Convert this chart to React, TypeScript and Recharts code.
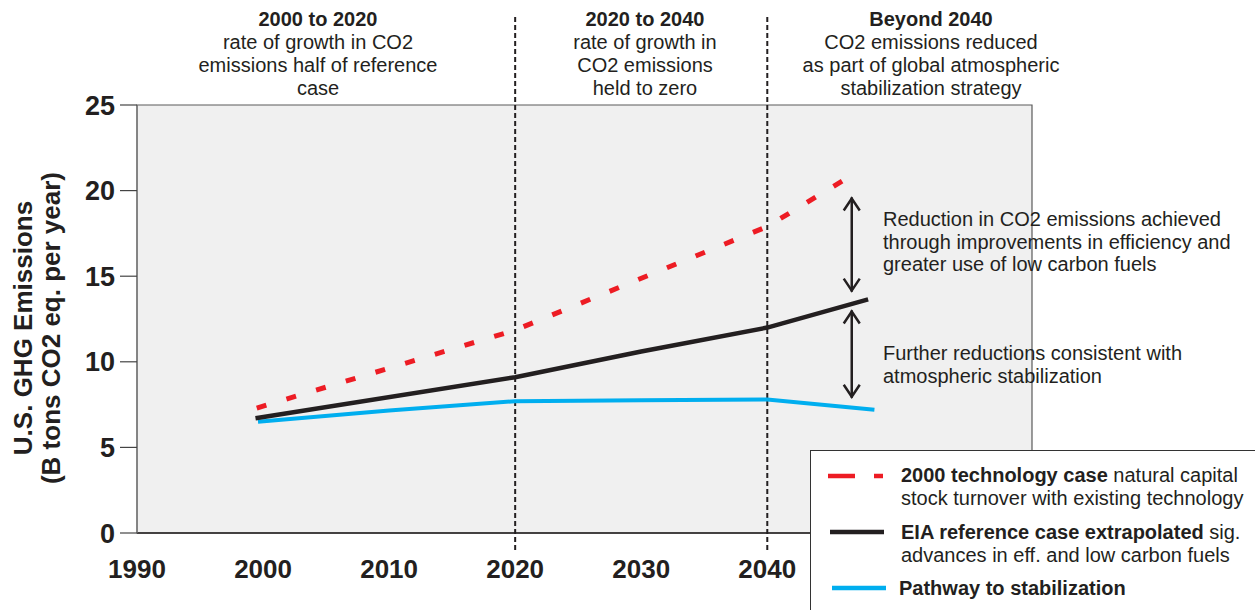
import React from 'react';
import { LineChart, Line, XAxis, YAxis, ReferenceArea, ReferenceLine } from 'recharts';

const FONT = '"Liberation Sans", Arial, Helvetica, sans-serif';
const INK = '#231f20';

// x axis
const X_TICKS = [1990, 2000, 2010, 2020, 2030, 2040];
const X_DOMAIN = [1990, 2061];
const Y_TICKS = [0, 5, 10, 15, 20, 25];

// 2000 technology case
const TECH_YEARS = [1999.5, 2020, 2040, 2046.7];
const TECH_VALUES = [7.3, 11.85, 17.9, 20.9];

// EIA reference case extrapolated
const EIA_YEARS = [1999.4, 2020, 2030, 2040, 2048];
const EIA_VALUES = [6.7, 9.1, 10.6, 12.0, 13.65];

// Pathway to stabilization
const PATH_YEARS = [1999.6, 2010, 2020, 2030, 2040, 2048.5];
const PATH_VALUES = [6.5, 7.15, 7.7, 7.75, 7.8, 7.2];

// period separators and the two reduction arrows
const PERIOD_LINES = [2020, 2040];
const ARROW_YEAR = 2046.7;
const ARROWS = [
  [19.6, 14.1],
  [13.0, 7.9],
];

const toRows = (xs: number[], ys: number[]) => xs.map((year, i) => ({ year, value: ys[i] }));

const techData = toRows(TECH_YEARS, TECH_VALUES);
const eiaData = toRows(EIA_YEARS, EIA_VALUES);
const pathData = toRows(PATH_YEARS, PATH_VALUES);

const ArrowShape = (props: any) => {
  const { x1, y1, y2 } = props;
  const top = Math.min(y1, y2);
  const bottom = Math.max(y1, y2);
  return (
    <g stroke={INK} strokeWidth={2.5} fill="none">
      <line x1={x1} y1={top} x2={x1} y2={bottom} />
      <polyline points={`${x1 - 8},${top + 13} ${x1},${top + 1} ${x1 + 8},${top + 13}`} />
      <polyline points={`${x1 - 8},${bottom - 13} ${x1},${bottom - 1} ${x1 + 8},${bottom - 13}`} />
    </g>
  );
};

const headers = [
  { center: 318, title: '2000 to 2020', lines: ['rate of growth in CO2', 'emissions half of reference', 'case'] },
  { center: 645, title: '2020 to 2040', lines: ['rate of growth in', 'CO2 emissions', 'held to zero'] },
  { center: 931, title: 'Beyond 2040', lines: ['CO2 emissions reduced', 'as part of global atmospheric', 'stabilization strategy'] },
];

const App: React.FC = () => {
  return (
    <div
      style={{
        position: 'absolute',
        left: 0,
        top: 0,
        width: 1255,
        height: 610,
        background: '#fff',
        fontFamily: FONT,
        color: INK,
        overflow: 'hidden',
      }}
    >
      <LineChart width={1255} height={610} margin={{ top: 105, right: 223, bottom: 37, left: 77 }}>
        <ReferenceArea
          x1={X_DOMAIN[0]}
          x2={X_DOMAIN[1]}
          y1={0}
          y2={25}
          fill="#f0f0f0"
          fillOpacity={1}
          stroke="#5a5a5a"
          strokeWidth={1.2}
        />
        <XAxis
          type="number"
          dataKey="year"
          domain={X_DOMAIN}
          ticks={X_TICKS}
          allowDecimals
          height={40}
          tickLine={false}
          tickSize={0}
          tickMargin={27}
          axisLine={{ stroke: INK, strokeWidth: 1.5 }}
          tick={{ fill: INK, fontSize: 26, fontWeight: 'bold', fontFamily: FONT }}
        />
        <YAxis
          type="number"
          domain={[0, 25]}
          ticks={Y_TICKS}
          width={60}
          tickSize={17}
          tickMargin={5}
          tickLine={{ stroke: '#444', strokeWidth: 1.2 }}
          axisLine={{ stroke: '#777', strokeWidth: 1.2 }}
          tick={{ fill: INK, fontSize: 27, fontWeight: 'bold', fontFamily: FONT }}
        />
        {PERIOD_LINES.map((yr) => (
          <ReferenceLine
            key={yr}
            segment={[
              { x: yr, y: -1 },
              { x: yr, y: 30.3 },
            ]}
            ifOverflow="visible"
            stroke={INK}
            strokeWidth={2}
            strokeDasharray="5 3"
          />
        ))}
        <Line
          data={pathData}
          dataKey="value"
          type="linear"
          stroke="#00aeef"
          strokeWidth={4}
          dot={false}
          activeDot={false}
          isAnimationActive={false}
        />
        <Line
          data={eiaData}
          dataKey="value"
          type="linear"
          stroke={INK}
          strokeWidth={4.5}
          dot={false}
          activeDot={false}
          isAnimationActive={false}
        />
        <Line
          data={techData}
          dataKey="value"
          type="linear"
          stroke="#ed1c24"
          strokeWidth={5}
          strokeDasharray="10 21"
          dot={false}
          activeDot={false}
          isAnimationActive={false}
        />
        {ARROWS.map(([a, b], i) => (
          <ReferenceLine
            key={i}
            segment={[
              { x: ARROW_YEAR, y: a },
              { x: ARROW_YEAR, y: b },
            ]}
            ifOverflow="visible"
            shape={ArrowShape}
          />
        ))}
      </LineChart>

      {/* period headers */}
      {headers.map((h) => (
        <div
          key={h.title}
          style={{
            position: 'absolute',
            left: h.center - 200,
            top: 8,
            width: 400,
            textAlign: 'center',
            fontSize: 20,
            lineHeight: '23px',
          }}
        >
          <div style={{ fontWeight: 'bold' }}>{h.title}</div>
          {h.lines.map((l) => (
            <div key={l}>{l}</div>
          ))}
        </div>
      ))}

      {/* y axis title */}
      <div
        style={{
          position: 'absolute',
          left: 37 - 200,
          top: 328 - 28,
          width: 400,
          height: 56,
          transform: 'rotate(-90deg)',
          textAlign: 'center',
          fontWeight: 'bold',
          fontSize: 26,
          lineHeight: '28px',
          whiteSpace: 'nowrap',
        }}
      >
        <div>U.S. GHG Emissions</div>
        <div>(B tons CO2 eq. per year)</div>
      </div>

      {/* arrow notes */}
      <div style={{ position: 'absolute', left: 883, top: 208, fontSize: 20, lineHeight: '22.5px', whiteSpace: 'nowrap' }}>
        <div>Reduction in CO2 emissions achieved</div>
        <div>through improvements in efficiency and</div>
        <div>greater use of low carbon fuels</div>
      </div>
      <div style={{ position: 'absolute', left: 883, top: 342, fontSize: 20, lineHeight: '22.5px', whiteSpace: 'nowrap' }}>
        <div>Further reductions consistent with</div>
        <div>atmospheric stabilization</div>
      </div>

      {/* legend */}
      <div
        style={{
          position: 'absolute',
          left: 810,
          top: 450,
          width: 470,
          height: 180,
          background: '#fff',
          border: `1.5px solid #333`,
          fontSize: 20,
          lineHeight: '23px',
          whiteSpace: 'nowrap',
        }}
      >
        <svg width={80} height={170} style={{ position: 'absolute', left: 0, top: 0 }}>
          <line x1={17} y1={25} x2={72} y2={25} stroke="#ed1c24" strokeWidth={4.5} strokeDasharray="27 19" />
          <line x1={19} y1={81} x2={73} y2={81} stroke={INK} strokeWidth={4.5} />
          <line x1={21} y1={137} x2={75} y2={137} stroke="#00aeef" strokeWidth={4.5} />
        </svg>
        <div style={{ position: 'absolute', left: 90, top: 13 }}>
          <div>
            <b>2000 technology case</b> natural capital
          </div>
          <div>stock turnover with existing technology</div>
        </div>
        <div style={{ position: 'absolute', left: 90, top: 70 }}>
          <div>
            <b>EIA reference case extrapolated</b> sig.
          </div>
          <div>advances in eff. and low carbon fuels</div>
        </div>
        <div style={{ position: 'absolute', left: 88, top: 126 }}>
          <b>Pathway to stabilization</b>
        </div>
      </div>
    </div>
  );
};

export default App;
